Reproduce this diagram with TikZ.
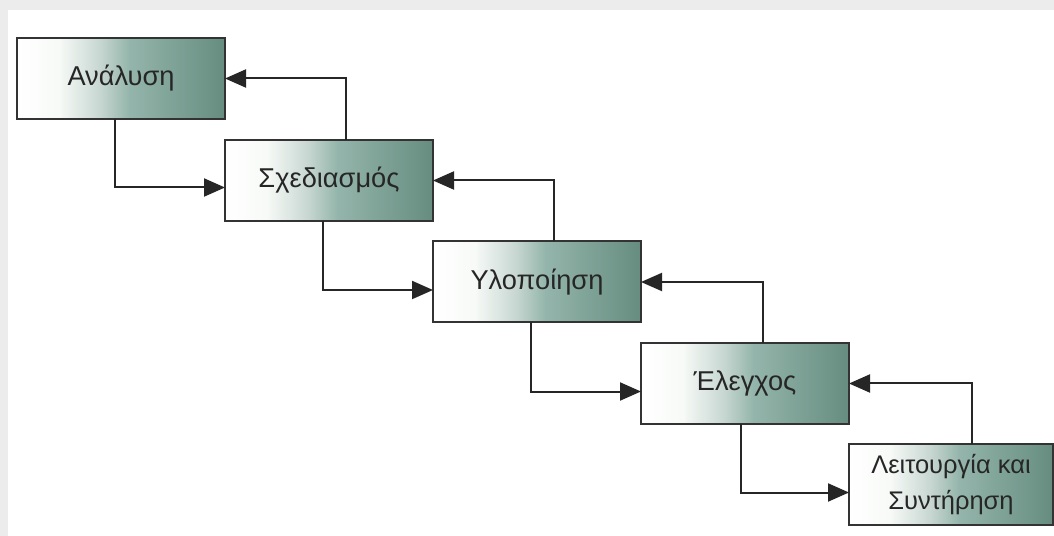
\documentclass[tikz,border=0pt]{standalone}
\usepackage{fontspec}
\setmainfont{Liberation Sans}
\usepackage{xcolor}
\usepackage{tikz}
\usetikzlibrary{positioning,arrows.meta}

\definecolor{framegray}{RGB}{236,236,236}
\pgfdeclarehorizontalshading{stageshade}{100bp}{
    rgb(0bp)=(1,1,1); rgb(25bp)=(1,1,1); rgb(35bp)=(0.97,0.98,0.97);
    rgb(45bp)=(0.78,0.84,0.82); rgb(52bp)=(0.58,0.71,0.67);
    rgb(75bp)=(0.40,0.55,0.50); rgb(100bp)=(0.40,0.55,0.50)}

\begin{document}
\begin{tikzpicture}[
    node distance=0cm,
    outer sep=0pt,
    stage/.style={draw=black!80, line width=0.4mm, rectangle, minimum width=41.6mm, minimum height=16.2mm,
        align=center, shading=stageshade, text=black!85, font=\fontsize{15.5pt}{20pt}\selectfont},
    flow/.style={draw=black!85, line width=0.4mm, -{Triangle[length=4.2mm,width=3.6mm]}}
]
    % frame
    \fill [framegray] (0,0) rectangle (210.8mm,-107.2mm);
    \fill [white] (1.6mm,-2mm) rectangle (210.8mm,-107.2mm);
    \useasboundingbox (0,0) rectangle (210.8mm,-107.2mm);

    \node [stage, anchor=north west] (b1) at (3.4mm,-7.6mm) {Ανάλυση};
    \node [stage, below right=4.2mm and 0mm of b1] (b2) {Σχεδιασμός};
    \node [stage, below right=4.1mm and 0mm of b2] (b3) {Υλοποίηση};
    \node [stage, below right=4.1mm and 0mm of b3] (b4) {Έλεγχος};
    \node [stage, minimum width=40.8mm, font=\fontsize{14.5pt}{20pt}\selectfont,
        below right=4.0mm and 0mm of b4] (b5) {Λειτουργία και\\Συντήρηση};

    % forward
    \draw [flow] ([xshift=-1.2mm]b1.south) |- ([yshift=-1.4mm]b2.west);
    \draw [flow] ([xshift=-1.2mm]b2.south) |- ([yshift=-1.6mm]b3.west);
    \draw [flow] ([xshift=-1.2mm]b3.south) |- ([yshift=-1.6mm]b4.west);
    \draw [flow] ([xshift=-0.8mm]b4.south) |- ([yshift=-1.6mm]b5.west);

    % back
    \draw [flow] ([xshift=3.4mm]b2.north) |- (b1.east);
    \draw [flow] ([xshift=3.4mm]b3.north) |- (b2.east);
    \draw [flow] ([xshift=3.6mm]b4.north) |- (b3.east);
    \draw [flow] ([xshift=4.2mm]b5.north) |- (b4.east);
\end{tikzpicture}
\end{document}
